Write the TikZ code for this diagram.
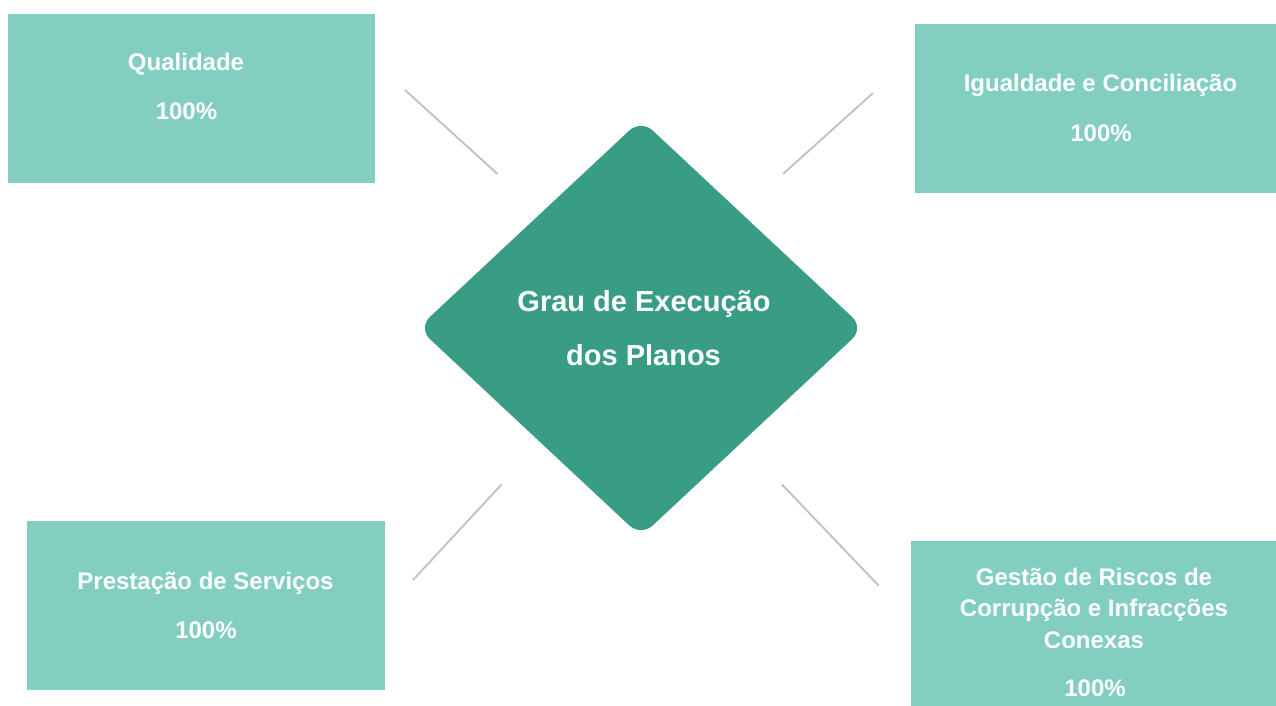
\documentclass[tikz,border=0pt]{standalone}
\usepackage{fontspec}
\setmainfont{Liberation Sans}
\usetikzlibrary{shapes.geometric}
\definecolor{boxfill}{HTML}{82CFC2}
\definecolor{diafill}{HTML}{399C84}
\definecolor{linegray}{HTML}{C0C0C0}
\begin{document}
\begin{tikzpicture}[x=1pt,y=-1pt,
  box/.style={fill=boxfill,draw=none,anchor=north west,inner sep=0pt,outer sep=0pt},
  lbl/.style={anchor=base,text=white,inner sep=0pt,font=\bfseries\fontsize{24}{24}\selectfont},
  bigl/.style={anchor=base,text=white,inner sep=0pt,font=\bfseries\fontsize{29}{29}\selectfont},
  conn/.style={draw=linegray,line width=1.8pt}]
\useasboundingbox[fill=white] (0,0) rectangle (1276,706);
% boxes
\node[box,minimum width=367pt,minimum height=169pt] (qbox) at (8,14) {};
\node[box,minimum width=361pt,minimum height=169pt] (ibox) at (915,24) {};
\node[box,minimum width=358pt,minimum height=169pt] (pbox) at (27,521) {};
\node[box,minimum width=365pt,minimum height=165pt] (gbox) at (911,541) {};
% diamond
\node[diamond,fill=diafill,draw=none,minimum width=446pt,minimum height=417pt,inner sep=0pt,rounded corners=16pt] (dia) at (641,328) {};
% texts
\node[lbl] (q1) at (186,71) {Qualidade};
\node[lbl] (q2) at (186.5,120) {100\%};
\node[lbl] (i1) at (1100.5,92) {Igualdade e Conciliação};
\node[lbl] (i2) at (1101,141.5) {100\%};
\node[lbl] (p1) at (205.5,589) {Prestação de Serviços};
\node[lbl] (p2) at (206,638) {100\%};
\node[lbl] (g1) at (1094,585) {Gestão de Riscos de};
\node[lbl] (g2) at (1094,616.5) {Corrupção e Infracções};
\node[lbl] (g3) at (1094,648.5) {Conexas};
\node[lbl] (g4) at (1095,696.5) {100\%};
\node[bigl] (d1) at (644,311) {Grau de Execução};
\node[bigl] (d2) at (643.5,365) {dos Planos};
% connectors
\coordinate (tlA) at (405,90);
\coordinate (tlB) at (497.5,174);
\coordinate (trA) at (873,93);
\coordinate (trB) at (783,174);
\coordinate (blA) at (413,580);
\coordinate (blB) at (501.5,484.5);
\coordinate (brA) at (878.5,585.5);
\coordinate (brB) at (782,484.5);
\draw[conn] (tlA) -- (tlB);
\draw[conn] (trA) -- (trB);
\draw[conn] (blA) -- (blB);
\draw[conn] (brA) -- (brB);
\end{tikzpicture}
\end{document}
